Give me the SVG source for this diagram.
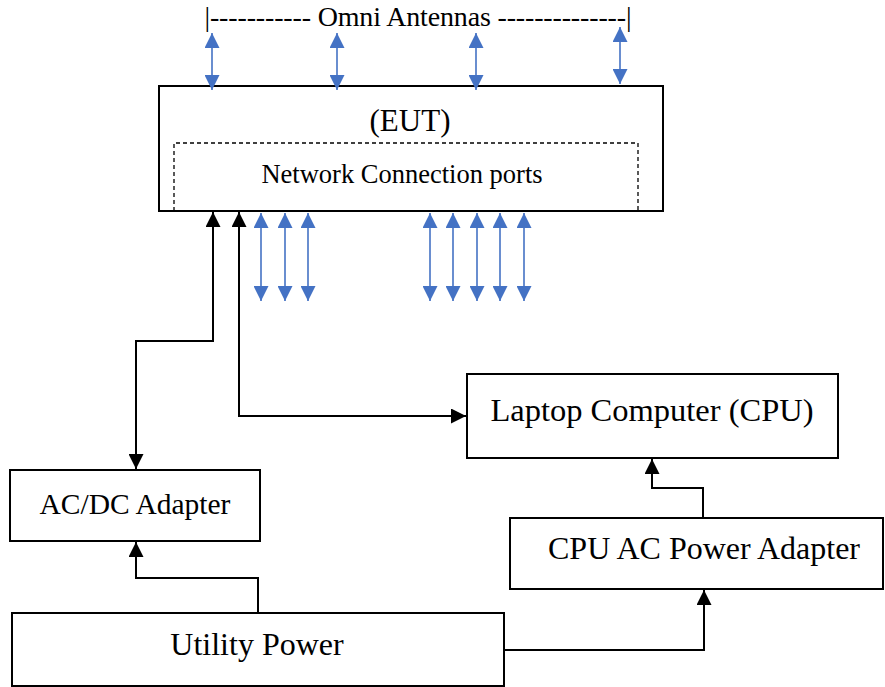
<svg xmlns="http://www.w3.org/2000/svg" width="885" height="687" viewBox="0 0 885 687">
<defs>
<style>
.box{fill:#fff;stroke:#000;stroke-width:2}
.t{font-family:"Liberation Serif","Times New Roman",serif;fill:#000;text-anchor:middle}
.blue{stroke:#4472C4;stroke-width:1.6;fill:none;marker-start:url(#ba);marker-end:url(#ba)}
.conn{stroke:#000;stroke-width:2;fill:none}
</style>
<marker id="ba" markerUnits="userSpaceOnUse" markerWidth="15" markerHeight="15" viewBox="0 0 15 15" refX="15" refY="7.5" orient="auto-start-reverse">
<path d="M0,0 L15,7.5 L0,15 z" fill="#4472C4"/>
</marker>
<marker id="ka" markerUnits="userSpaceOnUse" markerWidth="15" markerHeight="15" viewBox="0 0 15 15" refX="15" refY="7.5" orient="auto-start-reverse">
<path d="M0,0 L15,7.5 L0,15 z" fill="#000"/>
</marker>
</defs>
<rect width="885" height="687" fill="#fff"/>

<g id="antennas">
<text class="t" x="418" y="26" font-size="28" textLength="427" lengthAdjust="spacing">|----------- Omni Antennas --------------|</text>
</g>

<g id="eut">
<rect class="box" x="159" y="86" width="504" height="125"/>
<text class="t" x="410" y="131" font-size="31">(EUT)</text>
<path d="M174,211 V143 H638 V211" fill="none" stroke="#000" stroke-width="1.3" stroke-dasharray="4,3"/>
<text class="t" x="402" y="183" font-size="26.5">Network Connection ports</text>
</g>

<g id="laptop">
<rect class="box" x="467" y="374" width="371" height="84"/>
<text class="t" x="652" y="421" font-size="32.5">Laptop Computer (CPU)</text>
</g>

<g id="acdc">
<rect class="box" x="10" y="470" width="250" height="71"/>
<text class="t" x="135" y="514" font-size="29.5">AC/DC Adapter</text>
</g>

<g id="cpuac">
<rect class="box" x="510" y="518" width="373" height="71"/>
<text class="t" x="704" y="559" font-size="32">CPU AC Power Adapter</text>
</g>

<g id="utility">
<rect class="box" x="12" y="613" width="492" height="73"/>
<text class="t" x="257" y="655" font-size="32">Utility Power</text>
</g>

<g id="connectors">
<line class="blue" x1="212" y1="33" x2="212" y2="90"/>
<line class="blue" x1="337" y1="33" x2="337" y2="90"/>
<line class="blue" x1="476" y1="33" x2="476" y2="90"/>
<line class="blue" x1="620" y1="27" x2="620" y2="84"/>

<line class="blue" x1="261" y1="213" x2="261" y2="301"/>
<line class="blue" x1="285" y1="213" x2="285" y2="301"/>
<line class="blue" x1="308" y1="213" x2="308" y2="301"/>
<line class="blue" x1="430" y1="213" x2="430" y2="301"/>
<line class="blue" x1="453" y1="213" x2="453" y2="301"/>
<line class="blue" x1="477" y1="213" x2="477" y2="301"/>
<line class="blue" x1="500" y1="213" x2="500" y2="301"/>
<line class="blue" x1="524" y1="213" x2="524" y2="301"/>

<path class="conn" d="M213,212 V341 H136 V469" marker-start="url(#ka)" marker-end="url(#ka)"/>
<path class="conn" d="M239,212 V416 H466" marker-start="url(#ka)" marker-end="url(#ka)"/>
<path class="conn" d="M258,613 V578 H136 V542" marker-end="url(#ka)"/>
<path class="conn" d="M504,650 H704 V590" marker-end="url(#ka)"/>
<path class="conn" d="M703,518 V488 H652 V459" marker-end="url(#ka)"/>
</g>
</svg>
